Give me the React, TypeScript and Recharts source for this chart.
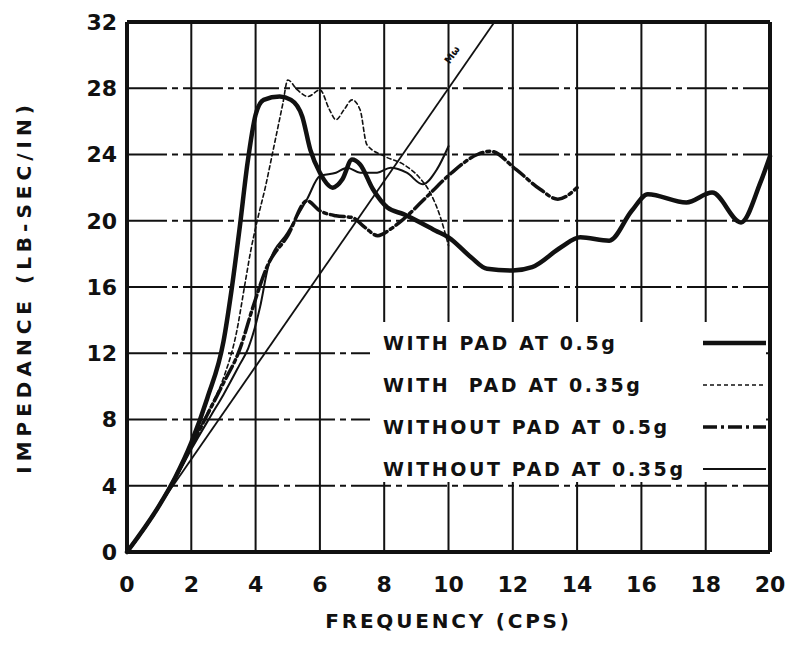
import { CartesianGrid, Legend, Line, LineChart, ReferenceDot, ReferenceLine, XAxis, YAxis } from 'recharts'

// tick labels
const freqTicks = [0, 2, 4, 6, 8, 10, 12, 14, 16, 18, 20]
const impTicks = [0, 4, 8, 12, 16, 20, 24, 28, 32]

// with pad at 0.5g (heavy solid)
const withPad05Freq = [0, 1, 1.5, 2, 2.5, 3, 3.25, 3.5, 3.75, 4, 4.25, 4.75, 5.1, 5.45, 5.7, 6, 6.4, 6.7, 7, 7.25, 7.65, 8.1, 8.6, 9.6, 10, 10.7, 11.2, 12, 12.6, 13.5, 14.1, 15, 15.7, 16.2, 17.4, 18.2, 19.1, 19.7, 20]
const withPad05Imp = [0, 2.8, 4.5, 6.6, 9.3, 12.7, 15.8, 19.5, 23.5, 26.4, 27.3, 27.5, 27.3, 26.3, 24.3, 22.9, 22.0, 22.5, 23.7, 23.4, 21.9, 20.8, 20.4, 19.4, 19.0, 17.8, 17.1, 17.0, 17.2, 18.4, 19.0, 18.8, 20.6, 21.6, 21.1, 21.7, 19.9, 22.3, 23.9]

// with pad at 0.35g (dotted)
const withPad035Freq = [0, 1, 1.5, 2, 2.5, 3, 3.4, 3.67, 3.85, 4.05, 4.3, 4.55, 4.85, 5.0, 5.3, 5.63, 6.0, 6.3, 6.5, 6.75, 7.0, 7.25, 7.46, 8.0, 8.6, 9.1, 9.4, 9.75, 10]
const withPad035Imp = [0, 2.8, 4.5, 6.4, 8.4, 10.5, 13.2, 16.2, 18.2, 20.0, 22.0, 24.3, 27.1, 28.5, 27.9, 27.5, 27.9, 26.7, 26.1, 26.7, 27.3, 26.7, 24.6, 23.9, 23.4, 22.6, 21.8, 20.2, 18.5]

// without pad at 0.5g (dash-dot)
const withoutPad05Freq = [0, 1, 1.5, 2, 2.5, 3, 3.5, 3.92, 4.35, 5.0, 5.6, 6.0, 6.5, 7.0, 7.4, 7.8, 8.2, 8.6, 9.35, 10.1, 10.9, 11.3, 12.1, 12.85, 13.4, 14.0]
const withoutPad05Imp = [0, 2.8, 4.5, 6.4, 8.3, 10.2, 12.2, 14.8, 17.2, 19.1, 21.2, 20.6, 20.3, 20.2, 19.6, 19.1, 19.5, 20.1, 21.5, 22.9, 24.0, 24.2, 23.1, 21.9, 21.3, 22.0]

// without pad at 0.35g (thin solid)
const withoutPad035Freq = [0, 1, 1.5, 2, 2.6, 3, 3.5, 3.77, 4.14, 4.4, 5.0, 5.6, 6.0, 6.5, 6.85, 7.25, 7.78, 8.2, 8.7, 9.2, 9.64, 10]
const withoutPad035Imp = [0, 2.8, 4.4, 6.2, 8.2, 9.5, 11.3, 12.3, 14.8, 17.3, 19.3, 21.3, 22.7, 22.9, 23.2, 22.9, 22.9, 23.2, 22.9, 22.2, 23.1, 24.5]

// mass line M(w)
const massFreq = [0, 11.43]
const massImp = [0, 32]

const toPoints = (xs: number[], ys: number[]) => xs.map((f, i) => ({ freq: f, imp: ys[i] }))

const series = [
  { name: 'WITH PAD AT 0.5g', data: toPoints(withPad05Freq, withPad05Imp), width: 4.5, dash: undefined },
  { name: 'WITH  PAD AT 0.35g', data: toPoints(withPad035Freq, withPad035Imp), width: 1.6, dash: '4 3' },
  { name: 'WITHOUT PAD AT 0.5g', data: toPoints(withoutPad05Freq, withoutPad05Imp), width: 3.5, dash: '14 4 3 4' },
  { name: 'WITHOUT PAD AT 0.35g', data: toPoints(withoutPad035Freq, withoutPad035Imp), width: 2, dash: undefined }
]

const font = '"DejaVu Sans", sans-serif'

function LegendBox() {
  return (
    <div style={{ background: '#fff', width: '100%', height: '100%' }}>
      {series.map((s) => (
        <div key={s.name} style={{ display: 'flex', alignItems: 'center', height: 42 }}>
          <span
            style={{
              fontFamily: font,
              fontWeight: 'bold',
              fontSize: 19,
              letterSpacing: 2.6,
              color: '#111',
              width: 322,
              paddingLeft: 13,
              whiteSpace: 'pre'
            }}>
            {s.name}
          </span>
          <svg width={64} height={10}>
            <line x1={0} y1={5} x2={64} y2={5} stroke="#111" strokeWidth={s.width} strokeDasharray={s.dash} />
          </svg>
        </div>
      ))}
    </div>
  )
}

function MassLabel(props: any) {
  const { cx, cy } = props
  return (
    <text
      x={cx}
      y={cy}
      transform={`rotate(-55 ${cx} ${cy})`}
      textAnchor="middle"
      fontFamily={font}
      fontWeight="bold"
      fontSize={10}
      fill="#111">
      Mω
    </text>
  )
}

export default function App() {
  return (
    <div style={{ position: 'absolute', left: 0, top: 0, background: '#fff' }}>
      <LineChart width={799} height={645} margin={{ top: 22, right: 29, left: 60, bottom: 13 }}>
        <CartesianGrid vertical={false} stroke="#111" strokeWidth={2} strokeDasharray="40 5 6 5" />
        <CartesianGrid horizontal={false} stroke="#111" strokeWidth={2} />
        <XAxis
          dataKey="freq"
          type="number"
          domain={[0, 20]}
          ticks={freqTicks}
          allowDuplicatedCategory={false}
          height={80}
          tickLine={false}
          tickSize={0}
          tickMargin={24}
          axisLine={{ stroke: '#111', strokeWidth: 4 }}
          tick={{ fontFamily: font, fontWeight: 'bold', fontSize: 22, fill: '#111' }}
          label={{
            value: 'FREQUENCY (CPS)',
            position: 'insideBottom',
            offset: 4,
            style: { fontFamily: font, fontWeight: 'bold', fontSize: 20, letterSpacing: 2.8, fill: '#111' }
          }}
        />
        <YAxis
          dataKey="imp"
          type="number"
          domain={[0, 32]}
          ticks={impTicks}
          width={67}
          tickLine={false}
          tickSize={0}
          tickMargin={10}
          axisLine={{ stroke: '#111', strokeWidth: 4 }}
          tick={{ fontFamily: font, fontWeight: 'bold', fontSize: 22, fill: '#111' }}
          label={{
            value: 'IMPEDANCE (LB-SEC/IN)',
            angle: -90,
            position: 'insideLeft',
            offset: -36,
            style: { fontFamily: font, fontWeight: 'bold', fontSize: 20, letterSpacing: 5, fill: '#111', textAnchor: 'middle' }
          }}
        />
        <ReferenceLine y={32} stroke="#111" strokeWidth={4} />
        <ReferenceLine x={20} stroke="#111" strokeWidth={4} />
        <Legend
          layout="horizontal"
          verticalAlign="middle"
          align="center"
          content={() => <LegendBox />}
          wrapperStyle={{ left: 370, top: 322, width: 396, height: 160 }}
        />
        <Line
          data={toPoints(massFreq, massImp)}
          dataKey="imp"
          name="M(w)"
          type="linear"
          stroke="#111"
          strokeWidth={1.8}
          dot={false}
          legendType="none"
          isAnimationActive={false}
        />
        {series.map((s) => (
          <Line
            key={s.name}
            data={s.data}
            dataKey="imp"
            name={s.name}
            type="monotone"
            stroke="#111"
            strokeWidth={s.width}
            strokeDasharray={s.dash}
            strokeLinecap="round"
            dot={false}
            isAnimationActive={false}
          />
        ))}
        <ReferenceDot x={10.2} y={29.9} r={0} shape={(p: any) => <MassLabel {...p} />} />
      </LineChart>
    </div>
  )
}
